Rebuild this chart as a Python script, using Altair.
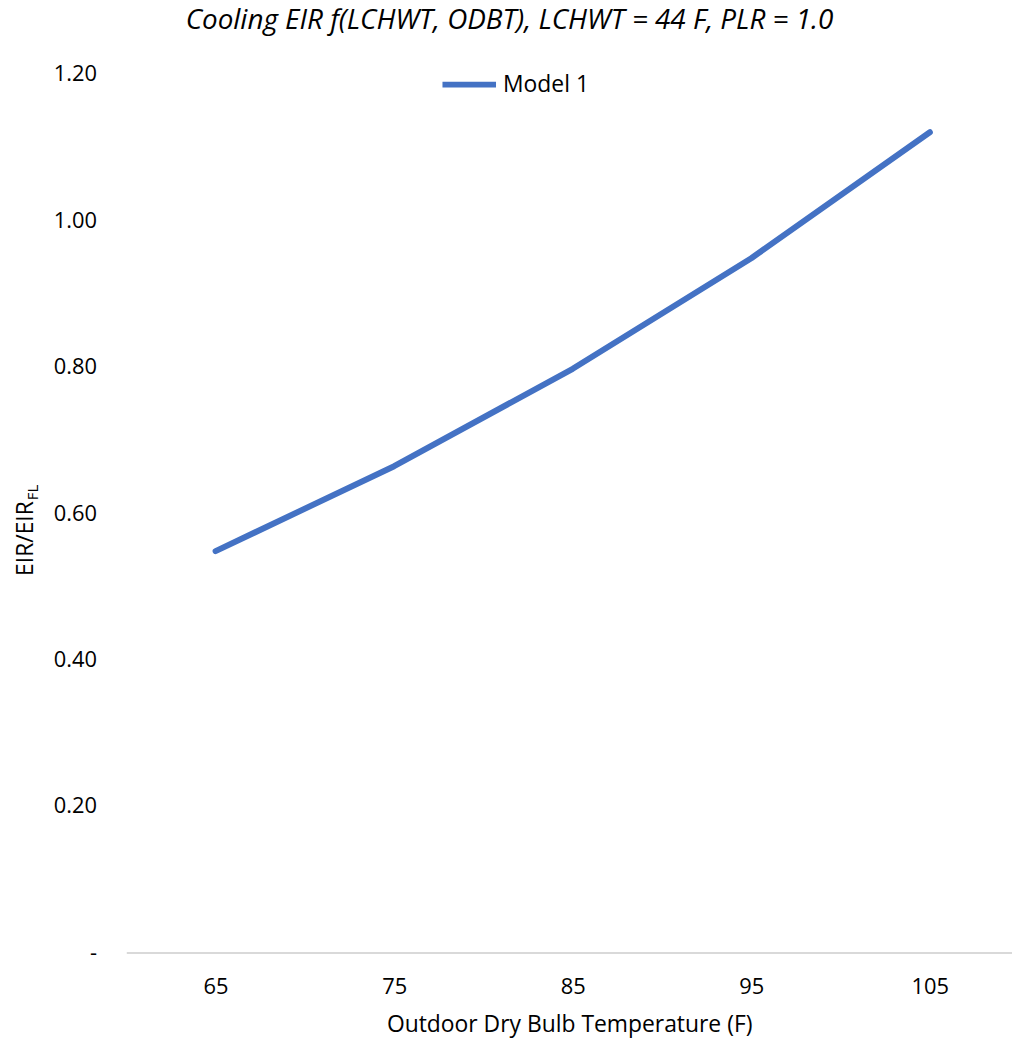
import altair as alt
import pandas as pd

odbt = [65, 75, 85, 95, 105]
eir = [0.548, 0.664, 0.797, 0.948, 1.120]
series = ["Model 1"] * 5
x_ticks = [65, 75, 85, 95, 105]
y_ticks = [0.0, 0.2, 0.4, 0.6, 0.8, 1.0, 1.2]

FONT = "Open Sans"
NBSP = "\u00a0"

df = pd.DataFrame({"odbt": odbt, "eir": eir, "series": series})

line = alt.Chart(df).mark_line(
    strokeWidth=6, strokeCap="round", strokeJoin="round"
).encode(
    x=alt.X(
        "odbt:Q",
        scale=alt.Scale(domain=[60, 109.6], nice=False, zero=False),
        axis=alt.Axis(
            values=x_ticks, title="Outdoor Dry Bulb Temperature (F)",
            grid=False, ticks=False, domainColor="#d9d9d9", domainWidth=2,
            labelFont=FONT, labelFontSize=22, labelColor="#000000",
            labelPadding=24, titleFont=FONT, titleFontSize=23,
            titleFontWeight="normal", titleColor="#000000", titlePadding=17,
            format="d",
        ),
    ),
    y=alt.Y(
        "eir:Q",
        scale=alt.Scale(domain=[0, 1.2], nice=False),
        axis=alt.Axis(
            values=y_ticks, title=None, grid=False, ticks=False, domain=False,
            labelFont=FONT, labelFontSize=22, labelColor="#000000",
            labelPadding=30,
            labelExpr=f"datum.value == 0 ? '-{NBSP}{NBSP}{NBSP}' : format(datum.value, '.2f')",
        ),
    ),
    color=alt.Color(
        "series:N",
        scale=alt.Scale(range=["#4472C4"]),
        legend=alt.Legend(
            orient="none", legendX=315, legendY=-19, title=None,
            symbolType="stroke", symbolStrokeWidth=6, symbolSize=2900,
            labelFont=FONT, labelFontSize=23, labelColor="#000000",
            labelOffset=4, padding=0,
        ),
    ),
)

ylab = alt.Chart(pd.DataFrame({"t": ["EIR/EIR"]})).mark_text(
    angle=270, align="right", baseline="alphabetic", font=FONT, fontSize=23,
    color="#000000",
).encode(text="t:N", x=alt.value(-94), y=alt.value(430))

ysub = alt.Chart(pd.DataFrame({"t": ["FL"]})).mark_text(
    angle=270, align="left", baseline="alphabetic", font=FONT, fontSize=15,
    color="#000000",
).encode(text="t:N", x=alt.value(-89), y=alt.value(429))

chart = alt.layer(line, ylab, ysub).properties(
    width=891,
    height=884,
    padding={"left": 119, "top": 63, "right": 0, "bottom": 84},
    autosize=alt.AutoSizeParams(type="none"),
    title=alt.TitleParams(
        "Cooling EIR f(LCHWT, ODBT), LCHWT = 44 F, PLR = 1.0",
        font=FONT, fontSize=28, fontStyle="italic", fontWeight="normal",
        color="#000000", anchor="middle", dx=-60, offset=20,
    ),
).configure_view(stroke=None)

chart.save("out.html", embed_options={"renderer": "svg", "actions": False})
